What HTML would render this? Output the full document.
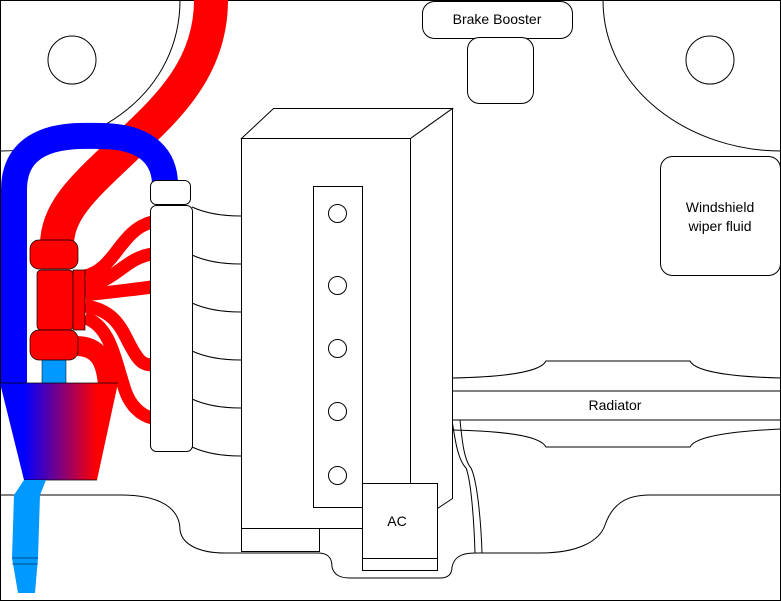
<!DOCTYPE html>
<html><head><style>html,body{margin:0;padding:0;background:#fff}svg{display:block}</style></head>
<body>
<svg width="781" height="601" viewBox="0 0 781 601" xmlns="http://www.w3.org/2000/svg" font-family="Liberation Sans, sans-serif">
<defs>
<linearGradient id="g" gradientUnits="userSpaceOnUse" x1="24" y1="0" x2="97" y2="0">
<stop offset="0" stop-color="#0000ff"/><stop offset="1" stop-color="#ff0000"/>
</linearGradient>
</defs>
<rect x="0.5" y="0.5" width="780" height="600" fill="#fff" stroke="#000"/>
<g fill="none" stroke="#000" stroke-width="1">
<path d="M0,151 C100,151 180,90 180,0"/>
<path d="M603,0 C603,90 690,151 781,151"/>
<ellipse cx="72" cy="60" rx="24" ry="24"/>
<ellipse cx="710" cy="60" rx="24" ry="24"/>
<path d="M0,495 H120 C170,495 180,515 180,530 C182,545 200,553 225,553 H318 C330,553 332,560 332,567 C334,575 340,578 350,578 H440 C450,578 452,572 452,567 C454,558 460,553 475,553 H540 C580,553 600,540 605,525 C612,505 625,495 650,495 H781"/>
<path d="M452,378 C500,377 540,373 546,361 H690 C696,373 740,377 781,378"/>
<path d="M452,430 C500,431 540,435 546,447 H690 C696,435 740,431 781,429"/>
<path d="M452,420 C455,440 458,460 466,468 C471,480 474,520 475,553"/>
<path d="M460,420 C462,440 464,460 471,468 C477,480 481,520 482,553"/>
</g>
<line x1="452" y1="391" x2="781" y2="391" stroke="#000"/>
<line x1="452" y1="420" x2="781" y2="420" stroke="#000"/>
<text x="615" y="410" font-size="14" text-anchor="middle">Radiator</text>
<rect x="422.5" y="1.5" width="150" height="37" rx="12" fill="#fff" stroke="#000"/>
<text x="497" y="24" font-size="14" text-anchor="middle">Brake Booster</text>
<rect x="467.5" y="37.5" width="66" height="66" rx="12" fill="#fff" stroke="#000"/>
<rect x="660.5" y="156.5" width="120" height="119" rx="12" fill="#fff" stroke="#000"/>
<text x="720" y="212" font-size="14" text-anchor="middle">Windshield</text>
<text x="720" y="231" font-size="14" text-anchor="middle">wiper fluid</text>
<g fill="#fff" stroke="#000">
<path d="M241.5,138.5 L273.5,108.5 H452.5 L410.5,138.5 Z"/>
<path d="M410.5,138.5 L452.5,108.5 V498.5 L437.5,508.5 V483.5 H410.5 Z"/>
<rect x="241.5" y="138.5" width="169" height="390"/>
<rect x="241.5" y="528.5" width="78" height="23"/>
<rect x="313.5" y="186.5" width="49" height="321"/>
<rect x="362.5" y="483.5" width="75" height="87"/>
<line x1="362.5" y1="558.5" x2="437.5" y2="558.5"/>
<ellipse cx="337.5" cy="213.5" rx="9" ry="9"/>
<ellipse cx="337.5" cy="285.5" rx="9" ry="9"/>
<ellipse cx="337.5" cy="348.5" rx="9" ry="9"/>
<ellipse cx="337.5" cy="411.5" rx="9" ry="9"/>
<ellipse cx="337.5" cy="475.5" rx="9" ry="9"/>
</g>
<text x="397" y="526" font-size="14" text-anchor="middle">AC</text>
<g fill="none" stroke="#000">
<path d="M192,207 C205,213 220,216 241,216"/>
<path d="M192,255 C205,261 220,264 241,264"/>
<path d="M192,303 C205,309 220,312 241,312"/>
<path d="M192,351 C205,357 220,360 241,360"/>
<path d="M192,399 C205,405 220,408 241,408"/>
<path d="M192,447 C205,453 220,456 241,456"/>
</g>
<path d="M211,0 C211,70 165,110 125,148 C85,186 57,210 57,245" fill="none" stroke="#ff0000" stroke-width="34"/>
<path d="M14,385 V190 C14,130 80,136 100,136 C150,136 165,160 165,185" fill="none" stroke="#0000ff" stroke-width="26"/>
<g fill="none" stroke="#ff0000" stroke-width="13">
<path d="M85,276 C115,270 120,230 152,222"/>
<path d="M85,286 C115,282 125,258 152,254"/>
<path d="M85,295 C110,292 130,290 152,287"/>
<path d="M85,306 C115,310 122,330 130,345 C138,360 142,365 152,365"/>
<path d="M85,318 C110,325 115,360 125,390 C130,405 140,415 152,418"/>
</g>
<path d="M76,346 C98,346 106,360 108,385" fill="none" stroke="#ff0000" stroke-width="20"/>
<rect x="42" y="358" width="24" height="26" fill="#0099ff" stroke="#000" stroke-width="0.5"/>
<path d="M0,383 H118 L97,480 H24 Z" fill="url(#g)"/>
<line x1="0" y1="383" x2="118" y2="383" stroke="#000" stroke-width="0.7"/>
<line x1="24" y1="480" x2="97" y2="480" stroke="#000" stroke-width="0.7"/>
<path d="M24,480 H46 L40,495 L38,558 L35,593 H18 L12,558 L14,495 Z" fill="#0099ff"/>
<line x1="12" y1="558" x2="38" y2="558" stroke="#000" stroke-width="0.6"/>
<line x1="12" y1="564" x2="38" y2="564" stroke="#000" stroke-width="0.6"/>
<g fill="#ff0000" stroke="#000" stroke-width="0.7">
<rect x="30" y="240" width="48" height="29" rx="9"/>
<rect x="37" y="270" width="36" height="60" rx="4"/>
<rect x="73" y="270" width="12" height="60"/>
<rect x="30" y="330" width="48" height="30" rx="9"/>
</g>
<rect x="150.5" y="180.5" width="40" height="24" rx="6" fill="#fff" stroke="#000"/>
<rect x="150.5" y="205.5" width="42" height="246" rx="6" fill="#fff" stroke="#000"/>
</svg>
</body></html>
